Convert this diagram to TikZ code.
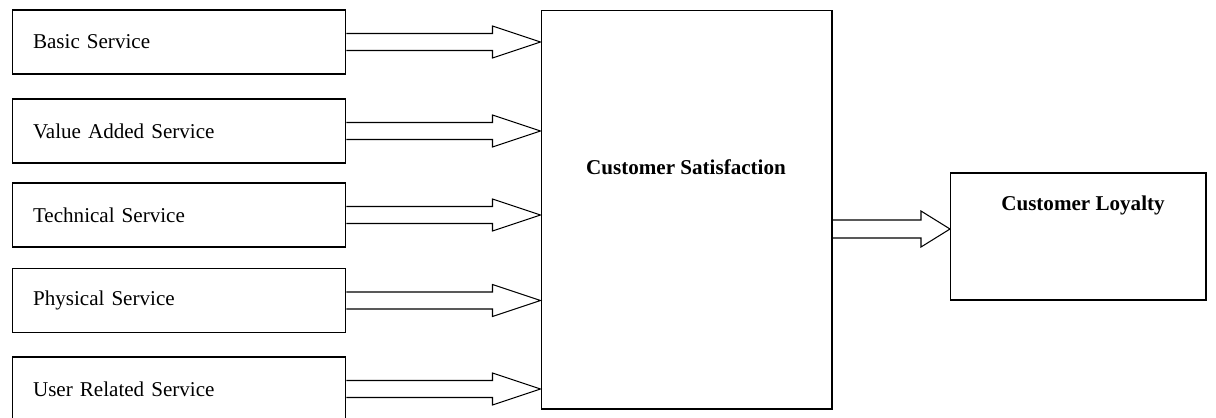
\documentclass[tikz,border=0pt]{standalone}
\usepackage{fontspec}
\setmainfont{Liberation Serif}
\usetikzlibrary{calc}

\tikzset{
  service/.style={draw, line width=0.6pt, inner xsep=0.42cm, text width=5.84cm,
    minimum height=1.28cm, align=left},
  bigbox/.style={draw, line width=0.6pt},
  fatline/.style={line width=0.6pt, line join=miter}
}

% hollow block arrow: start, end, body half width, head half width, head length
\newcommand\fatarrow[5]{%
  \draw[fatline] let \p1=(#1), \p2=(#2) in
    (\x1,\y1+#3) -- (\x2-#5,\y1+#3) -- (\x2-#5,\y1+#4) -- (\x2,\y1)
    -- (\x2-#5,\y1-#4) -- (\x2-#5,\y1-#3) -- (\x1,\y1-#3);
}

\begin{document}
\begin{tikzpicture}[x=0.02cm,y=-0.02cm,font=\fontsize{12}{14}\selectfont]
\useasboundingbox (0,0) rectangle (1216,417);

\node[service] (basic) at (179,42) {Basic Service};
\node[service] (value) at (179,131) {Value Added Service};
\node[service] (tech) at (179,215) {Technical Service};
\node[service] (phys) at (179,300.5) {Physical Service};
\node[service] (user) at (179,389) {User Related Service};

\node[bigbox, minimum width=5.82cm, minimum height=7.98cm] (sat) at (686.5,209.5) {};
\node[font=\fontsize{12}{14}\selectfont\bfseries] (sattext) at (686,167) {Customer Satisfaction};

\node[bigbox, minimum width=5.12cm, minimum height=2.54cm] (loyal) at (1078,236.5) {};
\node[font=\fontsize{12}{14}\selectfont\bfseries] (loyaltext) at (1083,205) {Customer Loyalty};

\foreach \s in {basic,value,tech,phys,user}
  {\fatarrow{\s.east}{\s.east -| sat.west}{0.17cm}{0.32cm}{0.96cm}}

\coordinate (lin) at (950,229);
\fatarrow{sat.east |- lin}{lin}{0.18cm}{0.36cm}{0.58cm}
\end{tikzpicture}
\end{document}
